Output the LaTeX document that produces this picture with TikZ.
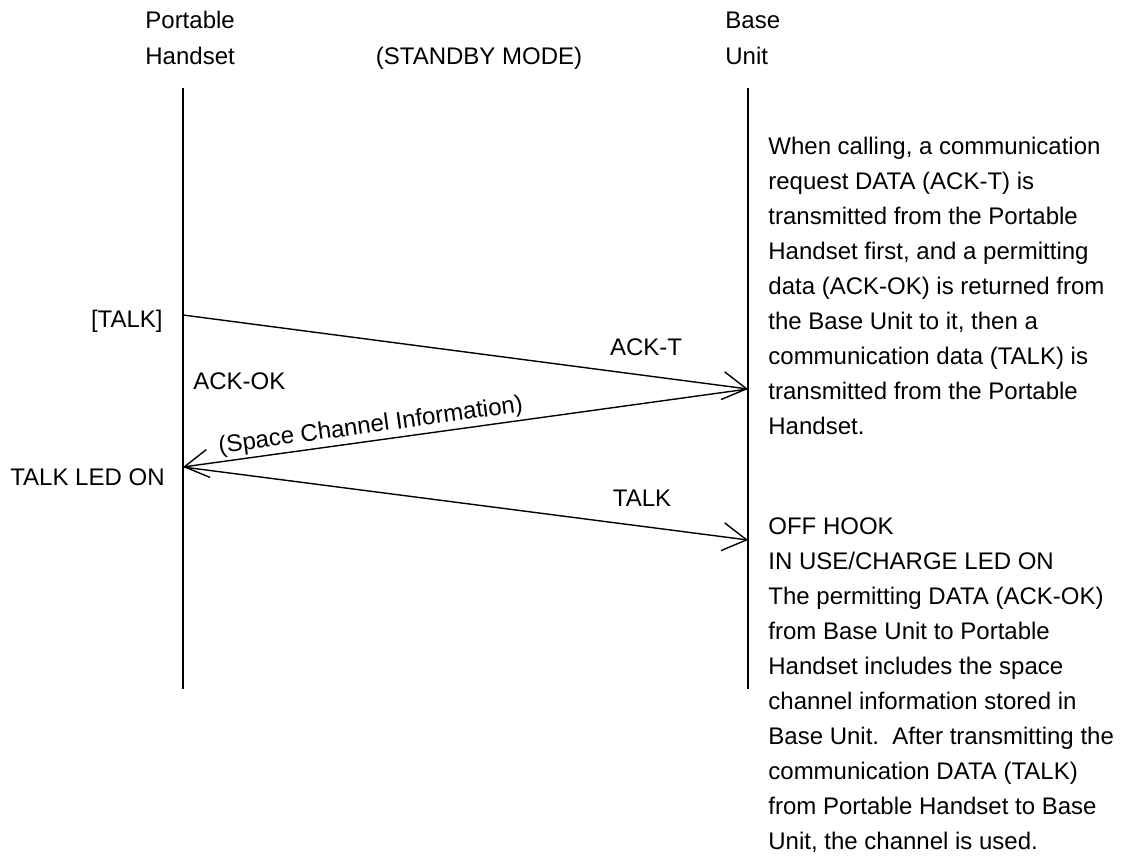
\documentclass[tikz,border=0pt]{standalone}
\usepackage{fontspec}
\setmainfont{Liberation Sans}
\usetikzlibrary{arrows.meta}
\newcommand{\txt}{\fontsize{12}{17.5}\selectfont}

\begin{document}
\begin{tikzpicture}[x=0.5pt,y=-0.5pt,
    lbl/.style={font=\txt,inner sep=0pt,text height=8.6pt,text depth=0pt},
    note/.style={font=\txt,inner sep=0pt,align=left,anchor=north west},
    life/.style={line width=0.7pt},
    msg/.style={line width=0.7pt,-{Straight Barb[length=12pt,width=14pt]}}]
  \path[fill=white,use as bounding box] (0,0) rectangle (1130,861);

  % heads
  \node[lbl,anchor=west](ph1) at (145,20) {Portable};
  \node[lbl,anchor=west](ph2) at (145,56) {Handset};
  \node[lbl](mode) at (479,56) {(STANDBY MODE)};
  \node[lbl,anchor=west](bu1) at (725,20) {Base};
  \node[lbl,anchor=west](bu2) at (725,56) {Unit};

  % lifelines
  \coordinate (h0) at (183,88);
  \coordinate (h9) at (183,689);
  \coordinate (b0) at (748,88);
  \coordinate (b9) at (748,689);
  \draw[life] (h0) -- (h9);
  \draw[life] (b0) -- (b9);

  % messages
  \coordinate (h1) at (183,315);
  \coordinate (b1) at (748,389);
  \coordinate (h2) at (183,467);
  \coordinate (b2) at (748,540);
  \draw[msg] (h1) -- (b1);
  \draw[msg] (b1) -- node[lbl,pos=0.664,sloped,above=3.8pt](sci) {(Space Channel Information)} (h2);
  \draw[msg] (h2) -- (b2);

  \node[lbl,anchor=east](tk) at (163,319) {[TALK]};
  \node[lbl](ackt) at (646,347) {ACK-T};
  \node[lbl,anchor=west](ackok) at (193,381) {ACK-OK};
  \node[lbl,anchor=east](led) at (165,477) {TALK LED ON};
  \node[lbl](talk) at (642,498) {TALK};

  % notes
  \node[note](n1) at (768,137) {When calling, a communication\\
    request DATA (ACK-T) is\\
    transmitted from the Portable\\
    Handset first, and a permitting\\
    data (ACK-OK) is returned from\\
    the Base Unit to it, then a\\
    communication data (TALK) is\\
    transmitted from the Portable\\
    Handset.};
  \node[note](n2) at (768,517) {OFF HOOK\\
    IN USE/CHARGE LED ON\\
    The permitting DATA (ACK-OK)\\
    from Base Unit to Portable\\
    Handset includes the space\\
    channel information stored in\\
    Base Unit.\ \ After transmitting the\\
    communication DATA (TALK)\\
    from Portable Handset to Base\\
    Unit, the channel is used.};
\end{tikzpicture}
\end{document}
